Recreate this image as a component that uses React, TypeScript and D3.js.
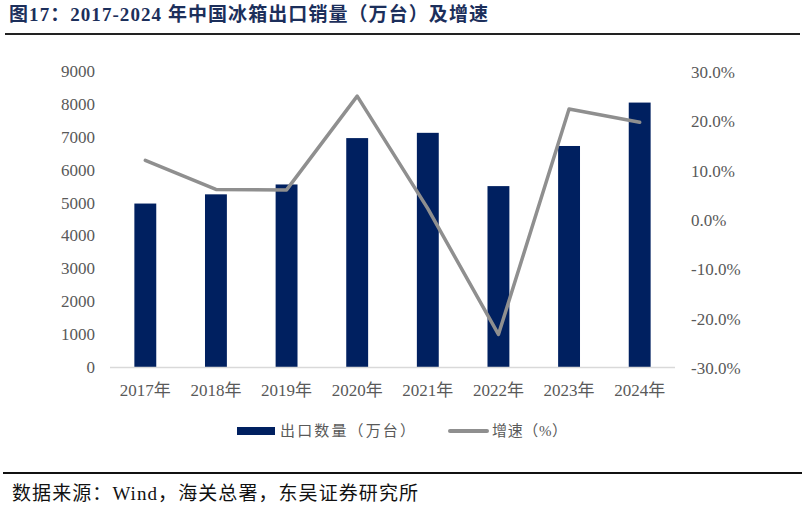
import React, { useEffect, useRef } from 'react';
import * as d3 from 'd3';

const YEARS = ['2017年', '2018年', '2019年', '2020年', '2021年', '2022年', '2023年', '2024年'];
const EXPORTS = [4970, 5250, 5550, 6960, 7120, 5500, 6720, 8040];
const GROWTH = [12.1, 6.2, 6.1, 25.1, 2.3, -23.2, 22.5, 19.8];
const LEFT_TICKS = [0, 1000, 2000, 3000, 4000, 5000, 6000, 7000, 8000, 9000];
const RIGHT_TICKS = [-30, -20, -10, 0, 10, 20, 30];

const WIDTH = 805;
const HEIGHT = 506;
const BAR_COLOR = '#002060';
const LINE_COLOR = '#8f8f8f';
const AXIS_TEXT = '#595959';
const SERIF = "'Liberation Serif', serif";
const MIXED = "'Liberation Serif', 'Noto Sans CJK SC', serif";
const CJK = "'Noto Sans CJK SC', sans-serif";

const App: React.FC = () => {
  const svgRef = useRef<SVGSVGElement>(null);

  useEffect(() => {
    if (!svgRef.current) return;
    const svg = d3.select(svgRef.current);
    svg.selectAll('*').remove();

    const margin = { top: 71, bottom: 367, left: 110, right: 675 };

    const x = d3.scaleBand<string>()
      .domain(YEARS)
      .range([margin.left, margin.right])
      .paddingInner(0.69)
      .paddingOuter(0.345);

    const yLeft = d3.scaleLinear().domain([0, 9000]).range([margin.bottom, margin.top]);
    const yRight = d3.scaleLinear().domain([-30, 30]).range([margin.bottom + 1, margin.top + 1]);

    // title
    svg.append('text')
      .attr('x', 9)
      .attr('y', 21)
      .attr('textLength', 479)
      .attr('lengthAdjust', 'spacing')
      .style('font-family', MIXED)
      .style('font-weight', 700)
      .style('font-size', '19px')
      .style('fill', '#1c2f5b')
      .text('图17：2017-2024 年中国冰箱出口销量（万台）及增速');

    svg.append('line')
      .attr('x1', 5).attr('x2', 800)
      .attr('y1', 34).attr('y2', 34)
      .attr('stroke', '#222').attr('stroke-width', 2);

    // bars
    svg.append('g')
      .selectAll('rect')
      .data(EXPORTS)
      .enter()
      .append('rect')
      .attr('x', (_, i) => x(YEARS[i]) as number)
      .attr('width', x.bandwidth())
      .attr('y', d => yLeft(d))
      .attr('height', d => yLeft(0) - yLeft(d))
      .attr('fill', BAR_COLOR);

    // baseline
    svg.append('line')
      .attr('x1', margin.left).attr('x2', margin.right)
      .attr('y1', yLeft(0) + 0.5).attr('y2', yLeft(0) + 0.5)
      .attr('stroke', '#d9d9d9').attr('stroke-width', 1.5);

    // growth line
    const line = d3.line<number>()
      .x((_, i) => (x(YEARS[i]) as number) + x.bandwidth() / 2)
      .y(d => yRight(d));

    svg.append('path')
      .datum(GROWTH)
      .attr('d', line)
      .attr('fill', 'none')
      .attr('stroke', LINE_COLOR)
      .attr('stroke-width', 3.5)
      .attr('stroke-linejoin', 'round')
      .attr('stroke-linecap', 'round');

    // left axis labels
    svg.append('g')
      .selectAll('text')
      .data(LEFT_TICKS)
      .enter()
      .append('text')
      .attr('x', 95)
      .attr('y', d => yLeft(d))
      .attr('dy', '0.35em')
      .attr('text-anchor', 'end')
      .style('font-family', SERIF)
      .style('font-size', '17px')
      .style('fill', AXIS_TEXT)
      .text(d => String(d));

    // right axis labels
    svg.append('g')
      .selectAll('text')
      .data(RIGHT_TICKS)
      .enter()
      .append('text')
      .attr('x', 691)
      .attr('y', d => yRight(d))
      .attr('dy', '0.35em')
      .style('font-family', SERIF)
      .style('font-size', '17px')
      .style('fill', AXIS_TEXT)
      .text(d => `${d.toFixed(1)}%`);

    // x labels
    svg.append('g')
      .selectAll('text')
      .data(YEARS)
      .enter()
      .append('text')
      .attr('x', d => (x(d) as number) + x.bandwidth() / 2)
      .attr('y', 390)
      .attr('dy', '0.35em')
      .attr('text-anchor', 'middle')
      .style('font-family', MIXED)
      .style('font-size', '17px')
      .style('fill', AXIS_TEXT)
      .text(d => d);

    // legend
    const legend = svg.append('g');
    legend.append('rect')
      .attr('x', 237).attr('y', 427)
      .attr('width', 38).attr('height', 8)
      .attr('fill', BAR_COLOR);
    legend.append('text')
      .attr('x', 280).attr('y', 431)
      .attr('dy', '0.35em')
      .attr('textLength', 135)
      .attr('lengthAdjust', 'spacing')
      .style('font-family', CJK)
      .style('font-size', '15px')
      .style('fill', AXIS_TEXT)
      .text('出口数量（万台）');
    legend.append('line')
      .attr('x1', 450).attr('x2', 487)
      .attr('y1', 431).attr('y2', 431)
      .attr('stroke', LINE_COLOR)
      .attr('stroke-width', 4)
      .attr('stroke-linecap', 'round');
    legend.append('text')
      .attr('x', 492).attr('y', 431)
      .attr('dy', '0.35em')
      .attr('textLength', 75)
      .attr('lengthAdjust', 'spacing')
      .style('font-family', MIXED)
      .style('font-size', '15px')
      .style('fill', AXIS_TEXT)
      .text('增速（%）');

    // footer
    svg.append('line')
      .attr('x1', 3).attr('x2', 802)
      .attr('y1', 473).attr('y2', 473)
      .attr('stroke', '#111').attr('stroke-width', 2);

    svg.append('text')
      .attr('x', 12)
      .attr('y', 493)
      .attr('dy', '0.35em')
      .attr('textLength', 406)
      .attr('lengthAdjust', 'spacing')
      .style('font-family', MIXED)
      .style('font-size', '19px')
      .style('fill', '#111')
      .text('数据来源：Wind，海关总署，东吴证券研究所');
  }, []);

  return (
    <div>
      <style>{'body{margin:0;background:#fff;}'}</style>
      <svg ref={svgRef} width={WIDTH} height={HEIGHT} style={{ display: 'block' }} />
    </div>
  );
};

export default App;
